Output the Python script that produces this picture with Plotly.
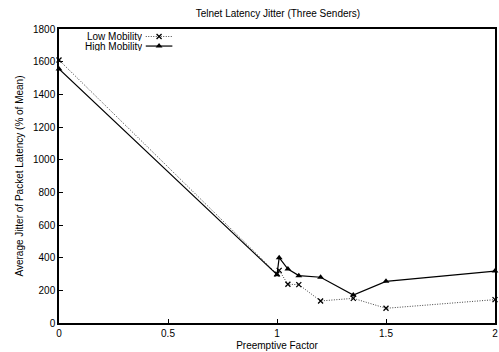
import plotly.graph_objects as go

# Preemptive factor vs. average jitter (% of mean)
low_x = [0, 1.0, 1.01, 1.05, 1.1, 1.2, 1.35, 1.5, 2.0]
low_y = [1610, 300, 322, 237, 235, 135, 151, 90, 143]
high_x = [0, 1.0, 1.01, 1.05, 1.1, 1.2, 1.35, 1.5, 2.0]
high_y = [1555, 296, 400, 330, 290, 280, 171, 255, 318]

series_names = ["Low Mobility", "High Mobility"]
x_ticks = [0, 0.5, 1, 1.5, 2]
x_tick_text = ["0", "0.5", "1", "1.5", "2"]
y_ticks = [0, 200, 400, 600, 800, 1000, 1200, 1400, 1600, 1800]

FONT = "Liberation Sans, Arial, sans-serif"
low_line = dict(color="#444444", width=1, dash="1px,1.5px")
high_line = dict(color="#000000", width=1.2)
low_marker = dict(symbol="x-thin-open", size=5, color="#000000",
                  line=dict(color="#000000", width=1.3))
high_marker = dict(symbol="triangle-up", size=6, color="#000000")

fig = go.Figure()
fig.add_trace(go.Scatter(x=low_x, y=low_y, mode="lines+markers", name=series_names[0],
                         line=low_line, marker=low_marker, cliponaxis=False,
                         showlegend=False))
fig.add_trace(go.Scatter(x=high_x, y=high_y, mode="lines+markers", name=series_names[1],
                         line=high_line, marker=high_marker, cliponaxis=False,
                         showlegend=False))

# Key drawn on an overlay axis pair (0..1 in both directions): text left, sample right
key_rows = [0.9745, 0.942]
key_x0, key_x1, key_text_x = 0.199, 0.260, 0.192
for name, row, ln, mk in zip(series_names, key_rows, [low_line, high_line],
                             [low_marker, high_marker]):
    fig.add_trace(go.Scatter(x=[key_x0, key_x1], y=[row, row], mode="lines",
                             line=ln, xaxis="x2", yaxis="y2", showlegend=False,
                             hoverinfo="skip"))
    fig.add_trace(go.Scatter(x=[(key_x0 + key_x1) / 2], y=[row], mode="markers",
                             marker=mk, xaxis="x2", yaxis="y2", showlegend=False,
                             hoverinfo="skip"))
    fig.add_annotation(x=key_text_x, y=row, xref="x2", yref="y2", text=name,
                       showarrow=False, xanchor="right", yanchor="middle",
                       height=9, borderpad=0, valign="middle",
                       font=dict(family=FONT, size=10, color="#000000"))

fig.update_layout(
    width=499, height=352,
    margin=dict(l=59, r=2, t=29, b=29),
    paper_bgcolor="white", plot_bgcolor="white",
    font=dict(family=FONT, size=10, color="#000000"),
    title=dict(text="Telnet Latency Jitter (Three Senders)", x=0.557, xanchor="center",
               y=0.962, yanchor="middle", font=dict(family=FONT, size=10)),
    xaxis=dict(range=[0, 2], tickvals=x_ticks, ticktext=x_tick_text,
               showgrid=False, zeroline=False, showline=True, linecolor="black",
               linewidth=1.5, mirror=True, ticks="inside", ticklen=4,
               tickcolor="black",
               title=dict(text="Preemptive Factor", standoff=4,
                          font=dict(family=FONT, size=10))),
    yaxis=dict(range=[0, 1800], tickvals=y_ticks, showgrid=False, zeroline=False,
               showline=True, linecolor="black", linewidth=1.5, mirror=True,
               ticks="inside", ticklen=4, tickcolor="black",
               title=dict(text="Average Jitter of Packet Latency (% of Mean)",
                          standoff=8, font=dict(family=FONT, size=10))),
    xaxis2=dict(range=[0, 1], overlaying="x", visible=False, fixedrange=True),
    yaxis2=dict(range=[0, 1], overlaying="y", visible=False, fixedrange=True),
)

fig.write_html("out.html")
